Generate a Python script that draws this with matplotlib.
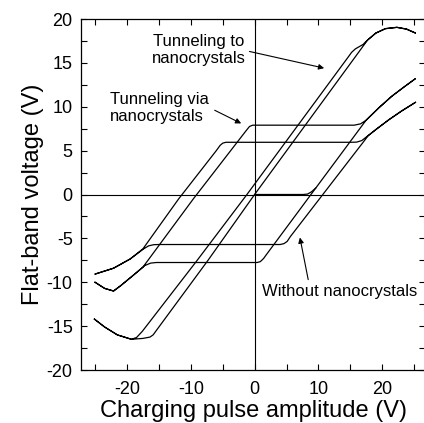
import matplotlib
matplotlib.use("Agg")
import matplotlib.pyplot as plt
from matplotlib.ticker import MultipleLocator

plt.rcParams['font.family'] = ['Liberation Sans', 'DejaVu Sans']
plt.rcParams['axes.unicode_minus'] = False

# loop "Without nanocrystals" (plateaus near +/-6 V)
wo_x = [25.2, 23.0, 21.0, 19.0, 17.5, 16.8, 16.0, 15.0, -4.5, -5.0, -5.4, -6.0, -11.9, -17.5,
        -19.5, -22.1, -25.0, -22.1, -19.5, -17.4, -16.6, -15.8, -15.0, 4.0, 4.6, 5.1, 5.6,
        17.8, 19.0, 21.0, 23.0, 25.2]
wo_y = [10.5, 9.5, 8.5, 7.4, 6.55, 6.15, 5.97, 5.95, 5.95, 5.85, 5.6, 5.0, -0.5, -6.2,
        -7.35, -8.4, -9.07, -8.4, -7.35, -6.2, -5.85, -5.72, -5.7, -5.7, -5.6, -5.35, -4.8,
        6.7, 7.4, 8.5, 9.5, 10.5]

# loop "Tunneling via nanocrystals" (plateaus near +/-7.8 V)
via_x = [-25.0, -23.5, -22.1, -21.0, -19.0, -17.2, -16.3, -15.4, 0.4, 0.9, 1.4, 1.9,
         17.45, 19.5, 21.5, 23.5, 25.2, 23.5, 21.5, 19.5, 17.45, 16.6, 15.6, -0.3, -0.8,
         -1.3, -9.6, -17.5, -19.0, -21.0, -22.1, -23.5, -25.0]
via_y = [-10.0, -10.7, -11.0, -10.4, -9.2, -8.1, -7.82, -7.75, -7.75, -7.65, -7.3, -6.8,
         8.45, 9.9, 11.2, 12.3, 13.2, 12.3, 11.2, 9.9, 8.45, 8.05, 7.9, 7.9, 7.75,
         7.3, -0.5, -8.28, -9.2, -10.4, -11.0, -10.7, -10.0]

# first sweep from the origin for the "via" sample
init_x = [0.0, 7.6, 8.3, 8.9, 9.6]
init_y = [0.0, 0.0, 0.05, 0.3, 0.75]

# loop "Tunneling to nanocrystals"
to_x = [-25.1, -23.5, -21.5, -19.3, -17.5, -16.4, -15.9, -15.4, -7.3, 0.0, 17.7, 19.0,
        20.5, 22.3, 23.8, 25.2, 23.8, 22.3, 20.5, 19.0, 17.7, 17.0, 16.4, 15.8, 15.2,
        14.6, -1.2, -9.1, -17.6, -18.5, -19.3, -21.5, -23.5, -25.1]
to_y = [-14.2, -15.1, -16.0, -16.5, -16.4, -16.25, -16.0, -15.5, -7.5, 0.0, 17.6, 18.4,
        18.9, 19.05, 18.85, 18.4, 18.85, 19.05, 18.9, 18.4, 17.6, 17.1, 16.85, 16.6, 16.2,
        15.6, 0.0, -7.6, -15.6, -16.3, -16.5, -16.0, -15.1, -14.2]

fig = plt.figure(figsize=(4.24, 4.23), dpi=100)
ax = fig.add_axes([81 / 424, 53 / 423, 344 / 424, 351 / 423])

ax.axhline(0, color='k', lw=0.8)
ax.axvline(0, color='k', lw=0.8)

for xs, ys in [(wo_x, wo_y), (via_x, via_y), (to_x, to_y), (init_x, init_y)]:
    ax.plot(xs, ys, color='k', lw=0.9, solid_joinstyle='round')

ax.set_xlim(-27.2, 26.7)
ax.set_ylim(-20, 20)
ax.xaxis.set_major_locator(MultipleLocator(10))
ax.xaxis.set_minor_locator(MultipleLocator(5))
ax.yaxis.set_major_locator(MultipleLocator(5))
ax.yaxis.set_minor_locator(MultipleLocator(2.5))
ax.tick_params(which='both', direction='in', top=True, right=True, width=0.8, labelsize=13)
ax.tick_params(which='major', length=4, pad=8)
ax.tick_params(which='minor', length=4)
ax.tick_params(axis='y', which='major', pad=6)
for s in ax.spines.values():
    s.set_linewidth(0.9)

ax.set_xlabel('Charging pulse amplitude (V)', fontsize=17, labelpad=1)
ax.set_ylabel('Flat-band voltage (V)', fontsize=17, labelpad=2)

ax.text(-8.75, 16.46, 'Tunneling to\nnanocrystals', fontsize=12, ha='center', va='center')
ax.text(-22.66, 9.89, 'Tunneling via\nnanocrystals', fontsize=12, ha='left', va='center')
ax.text(13.28, -11.09, 'Without nanocrystals', fontsize=12, ha='center', va='center')

arrow = dict(arrowstyle='-|>', color='k', lw=0.8, mutation_scale=8, shrinkA=0, shrinkB=0)
ax.annotate('', xy=(10.9, 14.4), xytext=(-0.8, 16.3), arrowprops=arrow)
ax.annotate('', xy=(-2.1, 8.1), xytext=(-6.25, 9.6), arrowprops=arrow)
ax.annotate('', xy=(7.1, -4.9), xytext=(8.4, -9.7), arrowprops=arrow)

fig.savefig('out.png', dpi=100)
